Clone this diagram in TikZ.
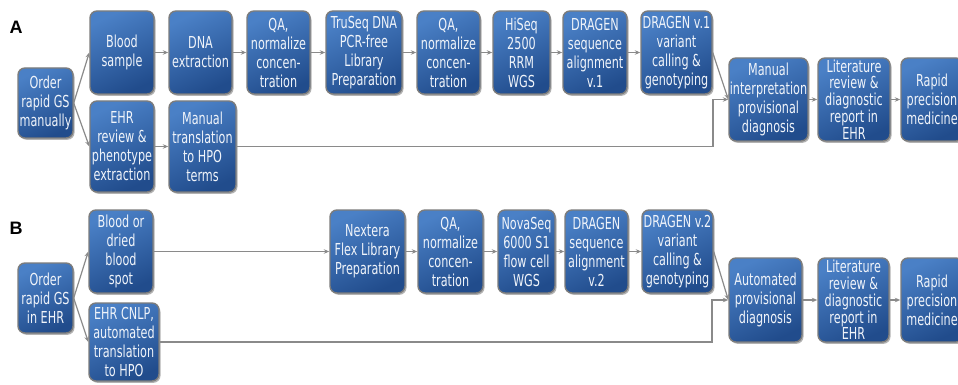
\documentclass[tikz,border=0pt]{standalone}
\usepackage{fontspec}
\setmainfont{DejaVu Sans}[FakeStretch=0.68]
\newfontfamily\lblfont{Liberation Sans}
\usetikzlibrary{shadows,arrows.meta}
\definecolor{boxtop}{HTML}{4A80C6}
\definecolor{boxbot}{HTML}{214C8C}
\definecolor{edgegray}{HTML}{7C7C7C}
\definecolor{linegray}{HTML}{8A8A8A}
\definecolor{txt}{HTML}{F0F4FA}
\tikzset{
  box/.style={draw=edgegray, line width=1.4pt, rounded corners=7pt,
    top color=boxtop, bottom color=boxbot, shading angle=25,
    text=txt, align=center, inner sep=0pt,
    font=\fontsize{16.5}{19}\selectfont,
    drop shadow={shadow xshift=1.5pt, shadow yshift=-1.8pt, fill=black, opacity=0.3}},
  tight/.style={font=\fontsize{16.5}{16.8}\selectfont},
  conn/.style={draw=linegray, line width=1.2pt, -{Stealth[length=5.5pt,width=4.5pt]}},
  panel/.style={font=\lblfont\bfseries\fontsize{18}{20}\selectfont, anchor=west}
}
\newcommand{\bx}[6]{\node[box, minimum width=#3pt, minimum height=#4pt, #6] (#1) at (#2) {#5};}
\begin{document}
\begin{tikzpicture}[x=1pt,y=-1pt]
\useasboundingbox (0,0) rectangle (958,385);
\fill[white] (0,0) rectangle (958,385);
\node[panel] (la) at (6,27) {A};
\node[panel] (lb) at (6,228) {B};
% Row A
\bx{oA}{45.5,103}{55}{70}{Order\\rapid GS\\manually}{}
\bx{bsA}{122,52.5}{64}{83}{Blood\\sample}{}
\bx{dnaA}{200.5,52.5}{63}{83}{DNA\\extraction}{}
\bx{qaA}{278.5,52.5}{63}{83}{QA,\\normalize\\concen-\\tration}{}
\bx{truA}{364,52.5}{76}{83}{TruSeq DNA\\PCR-free\\Library\\Preparation}{}
\bx{qa2A}{448.5,52.5}{63}{83}{QA,\\normalize\\concen-\\tration}{}
\bx{hiA}{521.5,52.5}{57}{83}{HiSeq\\2500\\RRM\\WGS}{}
\bx{drA}{595,52.5}{64}{83}{DRAGEN\\sequence\\alignment\\v.1}{}
\bx{dvA}{676.5,52.5}{71}{83}{DRAGEN v.1\\variant\\calling \&\\genotyping}{}
\bx{ehrA}{122,146.5}{64}{91}{EHR\\review \&\\phenotype\\extraction}{}
\bx{mtA}{202.5,146.5}{67}{91}{Manual\\translation\\to HPO\\terms}{}
\bx{miA}{768.5,99.5}{79}{83}{Manual\\interpretation\\provisional\\diagnosis}{}
\bx{litA}{854,99.5}{72}{83}{Literature\\review \&\\diagnostic\\report in\\EHR}{tight}
\bx{rapA}{932,99.5}{62}{83}{Rapid\\precision\\medicine}{}
% Row B
\bx{oB}{45.5,298}{55}{70}{Order\\rapid GS\\in EHR}{}
\bx{bdB}{121,251.5}{64}{83}{Blood or\\dried\\blood\\spot}{}
\bx{ehrB}{124,342}{70}{78}{EHR CNLP,\\automated\\translation\\to HPO}{}
\bx{nxB}{367.5,251.5}{75}{83}{Nextera\\Flex Library\\Preparation}{}
\bx{qaB}{450.5,251.5}{65}{83}{QA,\\normalize\\concen-\\tration}{}
\bx{nvB}{526.5,251.5}{57}{83}{NovaSeq\\6000 S1\\flow cell\\WGS}{}
\bx{drB}{596.5,251.5}{63}{83}{DRAGEN\\sequence\\alignment\\v.2}{}
\bx{dvB}{677.5,251.5}{71}{83}{DRAGEN v.2\\variant\\calling \&\\genotyping}{}
\bx{auB}{765.5,300}{73}{84}{Automated\\provisional\\diagnosis}{}
\bx{litB}{853.5,300}{71}{84}{Literature\\review \&\\diagnostic\\report in\\EHR}{tight}
\bx{rapB}{932,300}{62}{84}{Rapid\\precision\\medicine}{}
% connectors A
\draw[conn] (oA.east) -- (bsA.west);
\draw[conn] (oA.east) -- (ehrA.west);
\draw[conn] (bsA) -- (dnaA);
\draw[conn] (dnaA) -- (qaA);
\draw[conn] (qaA) -- (truA);
\draw[conn] (truA) -- (qa2A);
\draw[conn] (qa2A) -- (hiA);
\draw[conn] (hiA) -- (drA);
\draw[conn] (drA) -- (dvA);
\draw[conn] (ehrA) -- (mtA);
\coordinate (jA) at (713,146.5);
\draw[conn] (mtA.east) -- (jA) |- (miA.west);
\draw[conn] (dvA.east) -- (miA.west);
\draw[conn] (miA) -- (litA);
\draw[conn] (litA) -- (rapA);
% connectors B
\draw[conn] (oB.east) -- (bdB.west);
\draw[conn] (oB.east) -- (ehrB.west);
\draw[conn] (bdB) -- (nxB);
\draw[conn] (nxB) -- (qaB);
\draw[conn] (qaB) -- (nvB);
\draw[conn] (nvB) -- (drB);
\draw[conn] (drB) -- (dvB);
\coordinate (jB) at (712,342);
\draw[conn] (ehrB.east) -- (jB) |- (auB.west);
\draw[conn] (dvB.east) -- (auB.west);
\draw[conn] (auB) -- (litB);
\draw[conn] (litB) -- (rapB);
\end{tikzpicture}
\end{document}
